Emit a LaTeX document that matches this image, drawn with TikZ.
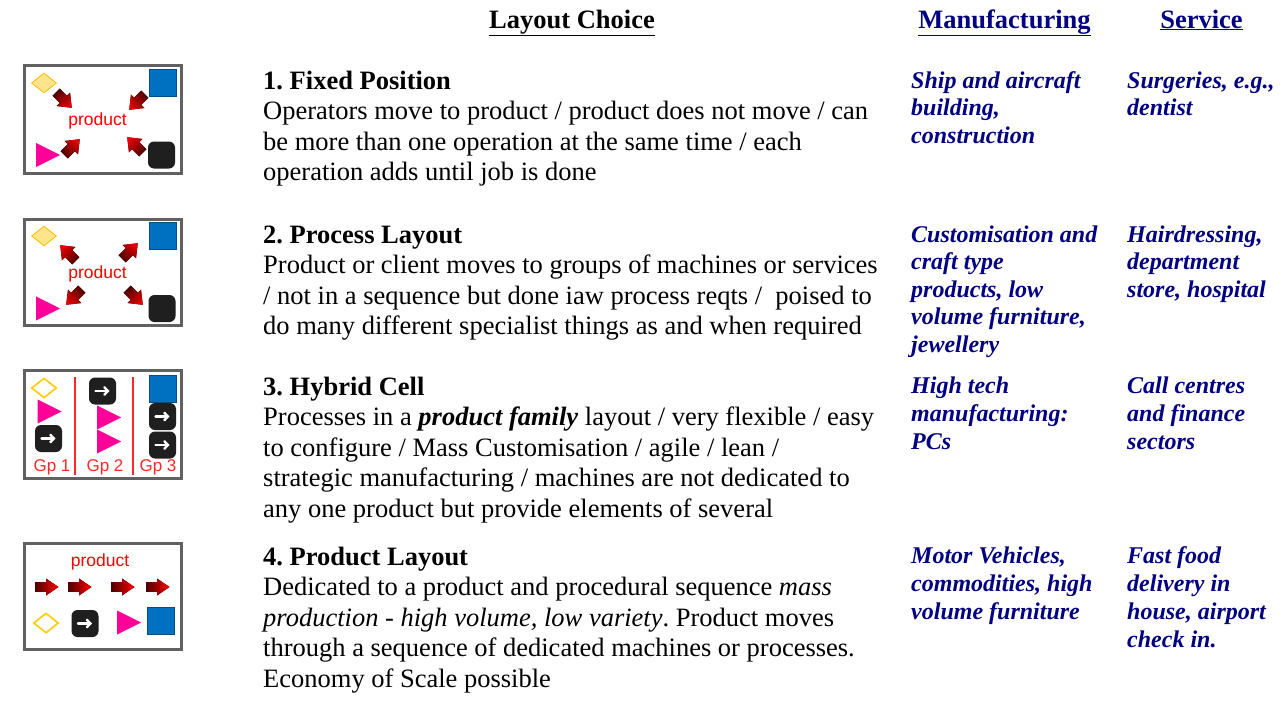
\documentclass[tikz,border=0pt]{standalone}
\usepackage{fontspec}
\setmainfont{Liberation Serif}
\newfontfamily\iconfont{Liberation Sans}
\usetikzlibrary{shapes.geometric,arrows.meta}
\frenchspacing
\definecolor{navy}{RGB}{0,0,128}
\definecolor{iconblue}{RGB}{0,112,192}
\definecolor{iconpink}{RGB}{255,0,153}
\definecolor{icongold}{RGB}{255,204,0}
\definecolor{iconyellow}{RGB}{255,228,140}
\definecolor{arrowdark}{RGB}{80,0,0}
\definecolor{gpred}{RGB}{255,40,40}
% #1,#2 centre, #3 angle, #4 half length, #5 shaft half width, #6 head half width
\newcommand\blockarrow[6]{%
  \begin{scope}[transform canvas={shift={(#1,#2)},rotate=#3}]
    \fill[left color=arrowdark, right color=red]
      (-#4,-#5) -- (-1,-#5) -- (-1,-#6) -- (#4,0) -- (-1,#6) -- (-1,#5) -- (-#4,#5) -- cycle;
  \end{scope}}
\tikzset{
  body/.style={anchor=base west, inner sep=0, font=\fontsize{26.5}{30.5}\selectfont},
  ttl/.style={body, font=\fontsize{26.5}{30.5}\selectfont\bfseries},
  ex/.style={anchor=base west, inner sep=0, text=navy, font=\fontsize{24}{27.5}\selectfont\bfseries\itshape},
  hdr/.style={anchor=base, inner sep=0, font=\fontsize{26.5}{30.5}\selectfont\bfseries},
  frame/.style={draw=black!62, line width=3.2, fill=white},
  diam/.style={diamond, draw=icongold!80!orange, fill=iconyellow, minimum width=25, minimum height=20, inner sep=0, line width=0.8},
  odiam/.style={diamond, draw=icongold, fill=white, minimum width=25, minimum height=20, inner sep=0, line width=1.6},
  bsq/.style={rectangle, fill=iconblue, draw=iconblue!70!black, line width=0.8, minimum size=27, inner sep=0},
  tri/.style={isosceles triangle, isosceles triangle stretches, fill=iconpink, minimum width=24, minimum height=24, inner sep=0},
  blk/.style={rectangle, rounded corners=6, fill=black!88, minimum size=27, inner sep=0},
  warrow/.style={white, line width=2.4, line cap=round, -{Straight Barb[length=3.5pt, width=7.5pt, line cap=round]}},
  prod/.style={inner sep=0, text=red, font=\iconfont\fontsize{17.5}{17.5}\selectfont},
  gp/.style={inner sep=0, text=gpred, font=\iconfont\fontsize{17}{17}\selectfont},
  sep/.style={draw=gpred, line width=1.4}
}
\begin{document}
\begin{tikzpicture}[x=1pt,y=-1pt]
\useasboundingbox[fill=white] (0,0) rectangle (1283,704);

% headers
\node[hdr] (hlayout) at (572,28) {\underline{Layout Choice}};
\node[hdr, text=navy] (hmanu) at (1004.5,28) {\underline{Manufacturing}};
\node[hdr, text=navy] (hserv) at (1201.5,28) {\underline{Service}};

% ---------- row 1 ----------
\node[ttl] (t1) at (263,89) {1. Fixed Position};
\foreach \t [count=\i] in {Operators move to product / product does not move / can,
  be more than one operation at the same time / each,
  operation adds until job is done}
  \node[body] (r1l\i) at (263,89+30.5*\i) {\t};
\node[ex] (m1a) at (911,88) {Ship and aircraft};
\node[ex] (m1b) at (911,115.5) {building,};
\node[ex] (m1c) at (911,143) {construction};
\node[ex] (s1a) at (1127,88) {Surgeries, e.g.,};
\node[ex] (s1b) at (1127,115.5) {dentist};

% ---------- row 2 ----------
\node[ttl] (t2) at (263,243) {2. Process Layout};
\foreach \t [count=\i] in {Product or client moves to groups of machines or services,
  / not in a sequence but done iaw process reqts /\ \ poised to,
  do many different specialist things as and when required}
  \node[body] (r2l\i) at (263,243+30.5*\i) {\t};
\node[ex] (m2a) at (911,242) {Customisation and};
\node[ex] (m2b) at (911,269.5) {craft type};
\node[ex] (m2c) at (911,297) {products, low};
\node[ex] (m2d) at (911,324.5) {volume furniture,};
\node[ex] (m2e) at (911,352) {jewellery};
\node[ex] (s2a) at (1127,242) {Hairdressing,};
\node[ex] (s2b) at (1127,269.5) {department};
\node[ex] (s2c) at (1127,297) {store, hospital};

% ---------- row 3 ----------
\node[ttl] (t3) at (263,395) {3. Hybrid Cell};
\foreach \t [count=\i] in {{Processes in a \textbf{\textit{product family}} layout / very flexible / easy},
  to configure / Mass Customisation / agile / lean /,
  strategic manufacturing / machines are not dedicated to,
  any one product but provide elements of several}
  \node[body] (r3l\i) at (263,395+30.5*\i) {\t};
\node[ex] (m3a) at (911,393) {High tech};
\node[ex] (m3b) at (911,421) {manufacturing:};
\node[ex] (m3c) at (911,449) {PCs};
\node[ex] (s3a) at (1127,393) {Call centres};
\node[ex] (s3b) at (1127,421) {and finance};
\node[ex] (s3c) at (1127,449) {sectors};

% ---------- row 4 ----------
\node[ttl] (t4) at (263,565) {4. Product Layout};
\foreach \t [count=\i] in {Dedicated to a product and procedural sequence \textit{mass},
  {\textit{production - high volume, low variety}. Product moves},
  through a sequence of dedicated machines or processes.,
  Economy of Scale possible}
  \node[body] (r4l\i) at (263,565+30.5*\i) {\t};
\node[ex] (m4a) at (911,563) {Motor Vehicles,};
\node[ex] (m4b) at (911,591) {commodities, high};
\node[ex] (m4c) at (911,619) {volume furniture};
\node[ex] (s4a) at (1127,563) {Fast food};
\node[ex] (s4b) at (1127,591) {delivery in};
\node[ex] (s4c) at (1127,619) {house, airport};
\node[ex] (s4d) at (1127,647) {check in.};

% ---------- icon 1 : fixed position ----------
\draw[frame] (24.6,65.6) rectangle (181.4,173.4);
\node[diam] (i1d) at (44,83) {};
\node[bsq] (i1b) at (162.5,83) {};
\node[tri] (i1t) at (43.5,155) {};
\node[blk] (i1k) at (161.5,155) {};
\node[prod] (i1p) at (97.5,121) {product};
\blockarrow{64}{100}{-45}{11}{5}{9.5}
\blockarrow{137}{102}{-135}{11}{5}{9.5}
\blockarrow{72}{147}{45}{11}{5}{9.5}
\blockarrow{135}{145}{135}{11}{5}{9.5}

% ---------- icon 2 : process layout ----------
\draw[frame] (24.6,219.6) rectangle (181.4,325.4);
\node[diam] (i2d) at (44,236) {};
\node[bsq] (i2b) at (162.5,236) {};
\node[tri] (i2t) at (43.5,308.5) {};
\node[blk] (i2k) at (162,308.5) {};
\node[prod] (i2p) at (97.5,274) {product};
\blockarrow{68}{253}{135}{11}{5}{9.5}
\blockarrow{130}{251}{45}{11}{5}{9.5}
\blockarrow{74}{297}{-135}{11}{5}{9.5}
\blockarrow{135}{297}{-45}{11}{5}{9.5}

% ---------- icon 3 : hybrid cell ----------
\draw[frame] (24.6,370.6) rectangle (181.4,478.4);
\node[odiam] (i3d) at (44,388) {};
\node[tri] (i3t1) at (45,411.5) {};
\node[blk] (i3k1) at (48.5,438.5) {};
\draw[warrow] ([xshift=-7]i3k1.center) -- ([xshift=7]i3k1.center);
\node[blk] (i3k2) at (102.5,391) {};
\draw[warrow] ([xshift=-7]i3k2.center) -- ([xshift=7]i3k2.center);
\node[tri] (i3t2) at (104.5,417.5) {};
\node[tri] (i3t3) at (104.5,441.5) {};
\node[bsq] (i3b) at (162.5,388.5) {};
\node[blk] (i3k3) at (162.5,416.5) {};
\draw[warrow] ([xshift=-7]i3k3.center) -- ([xshift=7]i3k3.center);
\node[blk] (i3k4) at (162.5,445) {};
\draw[warrow] ([xshift=-7]i3k4.center) -- ([xshift=7]i3k4.center);
\coordinate (s1t) at (75,377);
\coordinate (s1b) at (75,475);
\coordinate (s2t) at (133,377);
\coordinate (s2b) at (133,475);
\draw[sep] (s1t) -- (s1b);
\draw[sep] (s2t) -- (s2b);
\node[gp] (g1) at (52,467) {Gp 1};
\node[gp] (g2) at (105,467) {Gp 2};
\node[gp] (g3) at (158,467) {Gp 3};

% ---------- icon 4 : product layout ----------
\draw[frame] (24.6,543.6) rectangle (181.4,649.4);
\node[prod] (i4p) at (100,562) {product};
\blockarrow{47}{587}{0}{11.5}{4.8}{8.5}
\blockarrow{80}{587}{0}{11.5}{4.8}{8.5}
\blockarrow{123}{587}{0}{11.5}{4.8}{8.5}
\blockarrow{158}{587}{0}{11.5}{4.8}{8.5}
\node[odiam] (i4d) at (46,623) {};
\node[blk] (i4k) at (85,623.5) {};
\draw[warrow] ([xshift=-7]i4k.center) -- ([xshift=7]i4k.center);
\node[tri] (i4t) at (124.5,622.5) {};
\node[bsq] (i4b) at (161,621) {};
\end{tikzpicture}
\end{document}
